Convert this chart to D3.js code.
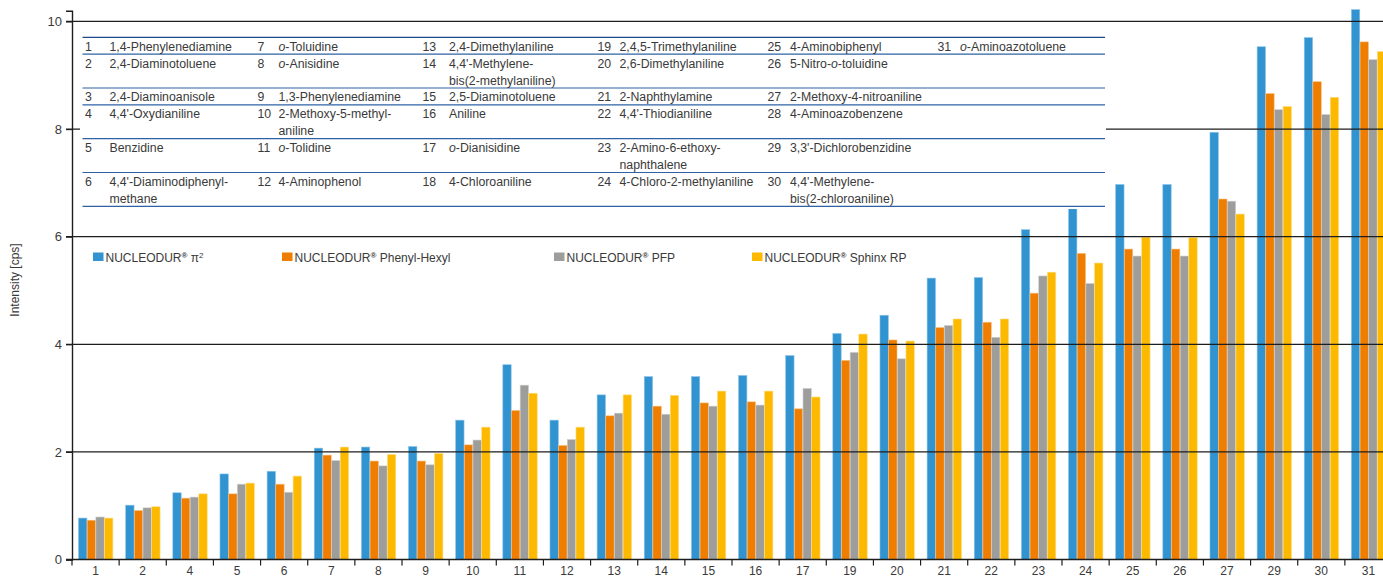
<!DOCTYPE html>
<html>
<head>
<meta charset="utf-8">
<script src="https://cdn.jsdelivr.net/npm/d3@7"></script>
<style>
  html, body { margin: 0; padding: 0; background: #fff; }
  svg { display: block; font-family: "Liberation Sans", Arial, Helvetica, sans-serif; }
</style>
</head>
<body>
<svg id="chart" width="1383" height="577"></svg>
<script>
// Compound numbers shown on the x axis (3, 18 and 28 not detected)
const categories = ["1","2","4","5","6","7","8","9","10","11","12","13","14","15","16","17","19","20","21","22","23","24","25","26","27","29","30","31"];

// Intensity [cps] per column phase
const pi2         = [0.77,1.01,1.24,1.59,1.64,2.07,2.09,2.10,2.59,3.62,2.59,3.06,3.40,3.40,3.42,3.79,4.20,4.54,5.23,5.24,6.13,6.52,6.97,6.97,7.94,9.53,9.70,10.22];
const phenylHexyl = [0.73,0.91,1.14,1.22,1.40,1.94,1.83,1.83,2.13,2.77,2.12,2.67,2.85,2.91,2.93,2.80,3.70,4.08,4.31,4.41,4.95,5.69,5.77,5.77,6.70,8.66,8.88,9.62];
const pfp         = [0.79,0.96,1.16,1.40,1.25,1.84,1.74,1.76,2.22,3.24,2.23,2.72,2.70,2.85,2.87,3.18,3.85,3.73,4.35,4.13,5.27,5.13,5.64,5.64,6.66,8.36,8.27,9.29];
const sphinxRP    = [0.77,0.98,1.22,1.42,1.55,2.09,1.95,1.97,2.46,3.09,2.46,3.06,3.05,3.13,3.13,3.02,4.19,4.06,4.47,4.47,5.34,5.51,5.99,5.98,6.42,8.42,8.59,9.44];

const seriesNames = ["π2", "Phenyl-Hexyl", "PFP", "Sphinx RP"];
const seriesColors = ["#3193d0", "#ef7d00", "#9d9d9c", "#fcb900"];
const seriesEdge   = ["#8cc4e8", "#f7be80", "#cfcfcf", "#fedc80"];
const yTicks = [0, 2, 4, 6, 8, 10];

// Compound key, one array per table column; "_o_" marks an italic locant
const keyCol1 = [["1",["1,4-Phenylenediamine"]],["2",["2,4-Diaminotoluene"]],["3",["2,4-Diaminoanisole"]],["4",["4,4'-Oxydianiline"]],["5",["Benzidine"]],["6",["4,4'-Diaminodiphenyl-","methane"]]];
const keyCol2 = [["7",["_o_-Toluidine"]],["8",["_o_-Anisidine"]],["9",["1,3-Phenylenediamine"]],["10",["2-Methoxy-5-methyl-","aniline"]],["11",["_o_-Tolidine"]],["12",["4-Aminophenol"]]];
const keyCol3 = [["13",["2,4-Dimethylaniline"]],["14",["4,4'-Methylene-","bis(2-methylaniline)"]],["15",["2,5-Diaminotoluene"]],["16",["Aniline"]],["17",["_o_-Dianisidine"]],["18",["4-Chloroaniline"]]];
const keyCol4 = [["19",["2,4,5-Trimethylaniline"]],["20",["2,6-Dimethylaniline"]],["21",["2-Naphthylamine"]],["22",["4,4'-Thiodianiline"]],["23",["2-Amino-6-ethoxy-","naphthalene"]],["24",["4-Chloro-2-methylaniline"]]];
const keyCol5 = [["25",["4-Aminobiphenyl"]],["26",["5-Nitro-_o_-toluidine"]],["27",["2-Methoxy-4-nitroaniline"]],["28",["4-Aminoazobenzene"]],["29",["3,3'-Dichlorobenzidine"]],["30",["4,4'-Methylene-","bis(2-chloroaniline)"]]];
const keyCol6 = [["31",["_o_-Aminoazotoluene"]]];

const svg = d3.select("#chart");
const textColor = "#3a3a3a";
const lineColor = "#1e1e1e";

// Scales
const x0 = d3.scaleBand().domain(categories).range([72, 1392]).padding(0);
const x1 = d3.scaleBand().domain(d3.range(seriesNames.length)).range([0, x0.bandwidth()]).paddingInner(0).paddingOuter(0.72);
const y = d3.scaleLinear().domain([0, 10.2]).range([559.5, 10.7]);

const values = [pi2, phenylHexyl, pfp, sphinxRP];

// Bars
const groups = svg.append("g").selectAll("g")
  .data(categories)
  .join("g")
  .attr("transform", d => `translate(${x0(d)},0)`);

groups.selectAll("rect")
  .data((c, i) => values.map((arr, s) => ({ s, v: arr[i] })))
  .join("rect")
  .attr("x", d => x1(d.s) + 0.3)
  .attr("width", x1.bandwidth() - 0.3)
  .attr("y", d => y(d.v))
  .attr("height", d => y(0) - y(d.v))
  .attr("fill", d => seriesColors[d.s])
  .attr("stroke", d => seriesEdge[d.s])
  .attr("stroke-width", 0.6);

// Horizontal grid lines (drawn across the bars) with short ticks left of the axis
svg.append("g").selectAll("line")
  .data(yTicks.filter(t => t > 0))
  .join("line")
  .attr("x1", 66).attr("x2", 1383)
  .attr("y1", d => y(d)).attr("y2", d => y(d))
  .attr("stroke", lineColor).attr("stroke-width", 1.2);

// Y axis with labels
const yAxis = d3.axisLeft(y).tickValues(yTicks).tickSize(6).tickPadding(4).tickFormat(d3.format("d"));
const yg = svg.append("g").attr("transform", "translate(72,0)").call(yAxis);
yg.select(".domain").attr("stroke", lineColor).attr("stroke-width", 1.4);
yg.selectAll(".tick line").attr("stroke", lineColor).attr("stroke-width", 1.2);
yg.selectAll(".tick text").attr("fill", textColor).attr("font-size", 13).attr("font-family", "Liberation Sans, Arial, sans-serif");

// X axis: baseline and ticks at band boundaries, labels centred in bands
const xg = svg.append("g");
xg.append("line")
  .attr("x1", 66).attr("x2", 1383)
  .attr("y1", y(0)).attr("y2", y(0))
  .attr("stroke", lineColor).attr("stroke-width", 1.4);
xg.selectAll("line.tk")
  .data(categories)
  .join("line")
  .attr("class", "tk")
  .attr("x1", d => x0(d)).attr("x2", d => x0(d))
  .attr("y1", y(0)).attr("y2", y(0) + 6)
  .attr("stroke", lineColor).attr("stroke-width", 1.2);
xg.selectAll("text")
  .data(categories)
  .join("text")
  .attr("x", d => x0(d) + x0.bandwidth() / 2)
  .attr("y", y(0) + 15)
  .attr("text-anchor", "middle")
  .attr("font-size", 12)
  .attr("fill", textColor)
  .text(d => d);

// Y axis title
svg.append("text")
  .attr("transform", "translate(19,280) rotate(-90)")
  .attr("text-anchor", "middle")
  .attr("font-size", 12)
  .attr("fill", textColor)
  .text("Intensity [cps]");

// Compound key table
const table = svg.append("g");
table.append("rect")
  .attr("x", 80).attr("y", 30).attr("width", 1026).attr("height", 179)
  .attr("fill", "#fff");

const keyCols = [keyCol1, keyCol2, keyCol3, keyCol4, keyCol5, keyCol6];
const numX = [85, 257.5, 422.5, 597.5, 767.5, 937.5];
const nameX = [109.5, 278.5, 449, 619.5, 790, 960];
const lineH = 16.9;
const tableTop = 37.3;

// Row heights follow the tallest entry in each row
const nRows = keyCol1.length;
const rowLines = d3.range(nRows).map(r => d3.max(keyCols, col => col[r] ? col[r][1].length : 1));
const rowTops = [tableTop];
rowLines.forEach((n, r) => rowTops.push(rowTops[r] + n * lineH));

table.selectAll("line")
  .data(rowTops)
  .join("line")
  .attr("x1", 82.5).attr("x2", 1105)
  .attr("y1", d => d).attr("y2", d => d)
  .attr("stroke", (d, i) => i === 0 ? "#1d4a86" : "#2e62a4")
  .attr("stroke-width", 1.2);

function addRich(sel, str) {
  str.split("_").forEach((part, i) => {
    if (!part) return;
    sel.append("tspan").attr("font-style", i % 2 === 1 ? "italic" : "normal").text(part);
  });
}

keyCols.forEach((col, ci) => {
  col.forEach(([num, lines], r) => {
    const base = rowTops[r] + 13.4;
    table.append("text")
      .attr("x", numX[ci]).attr("y", base)
      .attr("font-size", 12.3).attr("fill", textColor)
      .text(num);
    lines.forEach((ln, li) => {
      const t = table.append("text")
        .attr("x", nameX[ci]).attr("y", base + li * lineH)
        .attr("font-size", 12.3).attr("fill", textColor);
      addRich(t, ln);
    });
  });
});

// Series legend
const legendX = [93, 282, 554, 752];
const legend = svg.append("g");
seriesNames.forEach((name, i) => {
  legend.append("rect")
    .attr("x", legendX[i]).attr("y", 252.5)
    .attr("width", 10.5).attr("height", 8.5)
    .attr("fill", seriesColors[i]);
  const t = legend.append("text")
    .attr("x", legendX[i] + 12.5).attr("y", 261.5)
    .attr("font-size", 12).attr("fill", textColor);
  t.append("tspan").text("NUCLEODUR");
  t.append("tspan").attr("font-size", 8).attr("font-weight", "bold").attr("dy", -4).text("®");
  if (name === "π2") {
    t.append("tspan").attr("dy", 4).text(" π");
    t.append("tspan").attr("font-size", 8).attr("dy", -4).text("2");
  } else {
    t.append("tspan").attr("dy", 4).text(" " + name);
  }
});
</script>
</body>
</html>
